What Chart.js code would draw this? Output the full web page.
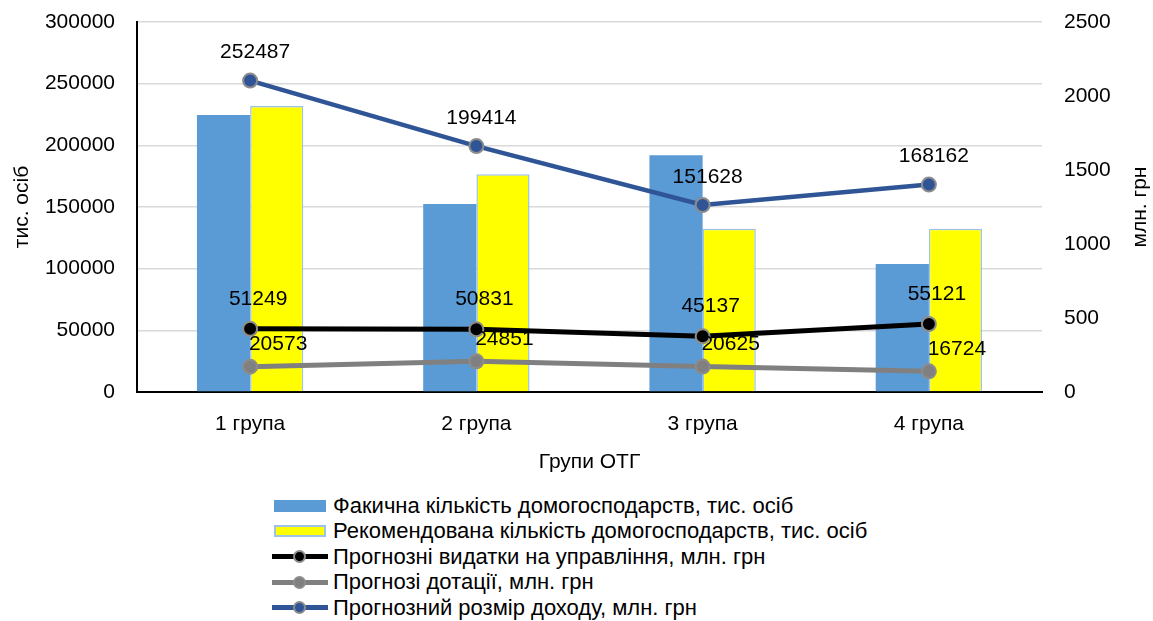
<!DOCTYPE html>
<html>
<head>
<meta charset="utf-8">
<script src="https://cdn.jsdelivr.net/npm/chart.js@4"></script>
<style>
  html, body { margin: 0; padding: 0; background: #fff; }
  #wrap { position: relative; width: 1153px; height: 621px; font-family: "Liberation Sans", Arial, sans-serif; }
  #chartBox { position: absolute; left: 0; top: 0; width: 1153px; height: 480px; }
  #legend { position: absolute; left: 272px; top: 493px; }
  .item { display: flex; align-items: center; height: 25.5px; font-size: 22px; color: #000; white-space: nowrap; }
  .sw { position: relative; width: 56px; height: 13px; margin-right: 5px; box-sizing: border-box; }
  .sw.bar { width: 52px; height: 12px; margin-left: 2px; margin-right: 7px; }
  .sw .ln { position: absolute; left: 0; right: 0; top: 4px; height: 5px; }
  .sw .dot { position: absolute; left: 21px; top: 0; width: 13px; height: 13px; border-radius: 50%; box-sizing: border-box; border: 2px solid #8c8c8c; }
</style>
</head>
<body>
<div id="wrap">
  <div id="chartBox"><canvas id="chart"></canvas></div>
  <div id="legend"></div>
</div>
<script>
// Categories and values
const groups = ["1 група", "2 група", "3 група", "4 група"];
const actualHouseholds = [224500, 152400, 191900, 103800];
const recommendedHouseholds = [231900, 176500, 132400, 132400];
const managementCosts = [51249, 50831, 45137, 55121];
const subsidies = [20573, 24851, 20625, 16724];
const income = [252487, 199414, 151628, 168162];
const rightTicks = [0, 500, 1000, 1500, 2000, 2500];

const FONT = "'Liberation Sans', Arial, sans-serif";

// data labels for the line series (offsets relative to the point)
const labelOffsets = { 2: [8, -30], 3: [28, -22], 4: [5, -28] };
const lineLabels = {
  id: "lineLabels",
  afterDatasetsDraw(chart) {
    const ctx = chart.ctx;
    ctx.save();
    ctx.font = "21px " + FONT;
    ctx.fillStyle = "#000";
    ctx.textAlign = "center";
    ctx.textBaseline = "middle";
    chart.data.datasets.forEach((ds, i) => {
      if (ds.type !== "line") return;
      const off = labelOffsets[i];
      chart.getDatasetMeta(i).data.forEach((pt, j) => {
        ctx.fillText(String(ds.data[j]), pt.x + off[0], pt.y + off[1]);
      });
    });
    ctx.restore();
  },
};

// right axis title reads bottom-to-top like the left one
const rightTitle = {
  id: "rightTitle",
  afterDraw(chart) {
    const ctx = chart.ctx;
    const a = chart.chartArea;
    ctx.save();
    ctx.translate(1140, (a.top + a.bottom) / 2);
    ctx.rotate(-Math.PI / 2);
    ctx.font = "21px " + FONT;
    ctx.fillStyle = "#000";
    ctx.textAlign = "center";
    ctx.textBaseline = "middle";
    ctx.fillText("млн. грн", 0, 0);
    ctx.restore();
  },
};

const lineStyle = (label, data, color, width) => ({
  type: "line",
  label,
  data,
  yAxisID: "y",
  borderColor: color,
  backgroundColor: color,
  borderWidth: width,
  pointRadius: 7,
  pointHoverRadius: 7,
  pointBackgroundColor: color,
  pointBorderColor: "#8c8c8c",
  pointBorderWidth: 2,
  tension: 0,
  order: 1,
});

const plain = (v) => String(v);
// fixed axis widths, no extra vertical padding from tick labels
const fixWidth = (w) => (s) => { s.width = w; s.paddingTop = 0; s.paddingBottom = 0; };

const chart = new Chart(document.getElementById("chart"), {
  type: "bar",
  data: {
    labels: groups,
    datasets: [
      {
        label: "Факична кількість домогосподарств, тис. осіб",
        data: actualHouseholds,
        backgroundColor: "#5b9bd5",
        borderWidth: 0,
        yAxisID: "y",
        order: 10,
      },
      {
        label: "Рекомендована кількість домогосподарств, тис. осіб",
        data: recommendedHouseholds,
        backgroundColor: "#ffff00",
        borderColor: "#9dc3e6",
        borderWidth: 1.5,
        yAxisID: "y",
        order: 10,
      },
      lineStyle("Прогнозні видатки на управління, млн. грн", managementCosts, "#000000", 5),
      lineStyle("Прогнозі дотації, млн. грн", subsidies, "#808080", 5),
      lineStyle("Прогнозний розмір доходу, млн. грн", income, "#2f5597", 4.5),
    ],
  },
  options: {
    responsive: true,
    maintainAspectRatio: false,
    animation: false,
    layout: { padding: { top: 22, left: 0, right: 0, bottom: 0 } },
    datasets: { bar: { categoryPercentage: 0.47, barPercentage: 1 } },
    plugins: {
      legend: { display: false },
      tooltip: { enabled: false },
    },
    scales: {
      x: {
        grid: { display: false },
        border: { color: "#000", width: 2 },
        ticks: { color: "#000", font: { family: FONT, size: 21 }, padding: 12 },
        title: { display: true, text: "Групи ОТГ", color: "#000", font: { family: FONT, size: 21 }, padding: { top: 10, bottom: 5 } },
        afterFit(s) { s.height = 88; },
      },
      y: {
        position: "left",
        min: 0,
        max: 300000,
        ticks: { stepSize: 50000, color: "#000", font: { family: FONT, size: 21 }, padding: 22, callback: plain },
        grid: { color: "#d9d9d9", lineWidth: 1.5, drawTicks: false },
        border: { color: "#000", width: 2 },
        title: { display: true, text: "тис. осіб", color: "#000", font: { family: FONT, size: 21 }, padding: { top: 10, bottom: 0 } },
        afterFit: fixWidth(137),
      },
      y2: {
        position: "right",
        min: 0,
        max: 2500,
        afterBuildTicks(s) { s.ticks = rightTicks.map((v) => ({ value: v })); },
        ticks: { color: "#000", font: { family: FONT, size: 21 }, padding: 22, callback: plain },
        grid: { display: false, drawTicks: false },
        border: { display: false },
        afterFit: fixWidth(111),
      },
    },
  },
  plugins: [lineLabels, rightTitle],
});

// legend below the chart, built from the datasets
const legendBox = document.getElementById("legend");
chart.data.datasets.forEach((ds) => {
  const item = document.createElement("div");
  item.className = "item";
  const sw = document.createElement("div");
  sw.className = "sw";
  if (ds.type === "line") {
    const ln = document.createElement("div");
    ln.className = "ln";
    ln.style.background = ds.borderColor;
    const dot = document.createElement("div");
    dot.className = "dot";
    dot.style.background = ds.pointBackgroundColor;
    sw.appendChild(ln);
    sw.appendChild(dot);
  } else {
    sw.classList.add("bar");
    sw.style.background = ds.backgroundColor;
    if (ds.borderWidth) sw.style.border = "2px solid " + ds.borderColor;
  }
  const txt = document.createElement("span");
  txt.textContent = ds.label;
  item.appendChild(sw);
  item.appendChild(txt);
  legendBox.appendChild(item);
});
</script>
</body>
</html>
